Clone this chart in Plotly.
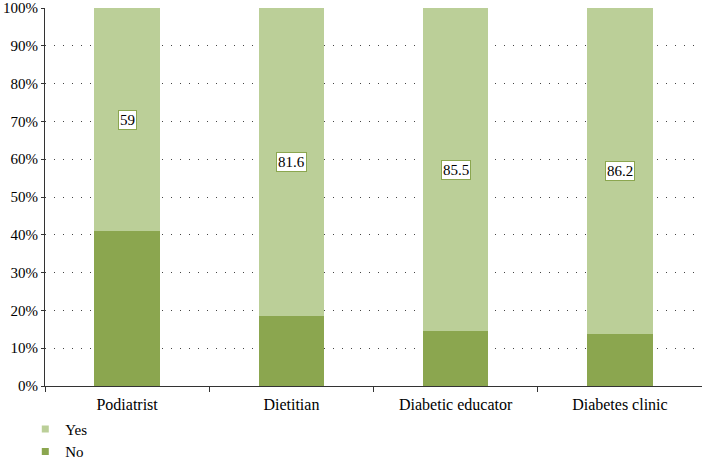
import plotly.graph_objects as go

categories = ["Podiatrist", "Dietitian", "Diabetic educator", "Diabetes clinic"]
no_values = [41.0, 18.4, 14.5, 13.8]
yes_values = [59.0, 81.6, 85.5, 86.2]
yes_labels = ["59", "81.6", "85.5", "86.2"]

yes_color = "#BBCF98"
no_color = "#8BA64F"
font_family = "Liberation Serif"

fig = go.Figure()
fig.add_trace(go.Bar(x=categories, y=no_values, name="No", marker_color=no_color,
                     marker_line_width=0, showlegend=False))
fig.add_trace(go.Bar(x=categories, y=yes_values, name="Yes", marker_color=yes_color,
                     marker_line_width=0, showlegend=False))
# legend entries with small square swatches
fig.add_trace(go.Scatter(x=[None], y=[None], mode="markers", name="Yes",
                         marker=dict(symbol="square", size=7, color=yes_color)))
fig.add_trace(go.Scatter(x=[None], y=[None], mode="markers", name="No",
                         marker=dict(symbol="square", size=7, color=no_color)))

for c, n, y, lab in zip(categories, no_values, yes_values, yes_labels):
    fig.add_annotation(x=c, y=n + y / 2, text=lab, showarrow=False,
                       font=dict(family=font_family, size=15, color="black"),
                       bgcolor="white", bordercolor=no_color, borderwidth=1, borderpad=1)

fig.update_layout(
    barmode="stack",
    bargap=0.6,
    width=702, height=461,
    margin=dict(l=45, r=0, t=8, b=75, autoexpand=False),
    paper_bgcolor="white", plot_bgcolor="white",
    font=dict(family=font_family, size=15, color="black"),
    legend=dict(orientation="v", x=-0.03, y=-0.071, xanchor="left", yanchor="top",
                font=dict(size=15), tracegroupgap=0, traceorder="normal"),
    xaxis=dict(showline=True, linecolor="#333333", linewidth=1, ticks="outside",
               tickson="boundaries", ticklen=5, tickcolor="#333333",
               tickfont=dict(size=16), automargin=False, ticklabelstandoff=4),
    yaxis=dict(range=[0, 100], dtick=10, ticksuffix="%", showline=True,
               linecolor="#333333", linewidth=1, ticks="outside", ticklen=3,
               tickcolor="#333333", showgrid=True, gridcolor="#444444",
               griddash="1px,8px", gridwidth=1, zeroline=False,
               tickfont=dict(size=15), automargin=False),
)

fig.write_html("out.html", config={"displayModeBar": False},
               post_script="document.body.style.margin='0px';")
